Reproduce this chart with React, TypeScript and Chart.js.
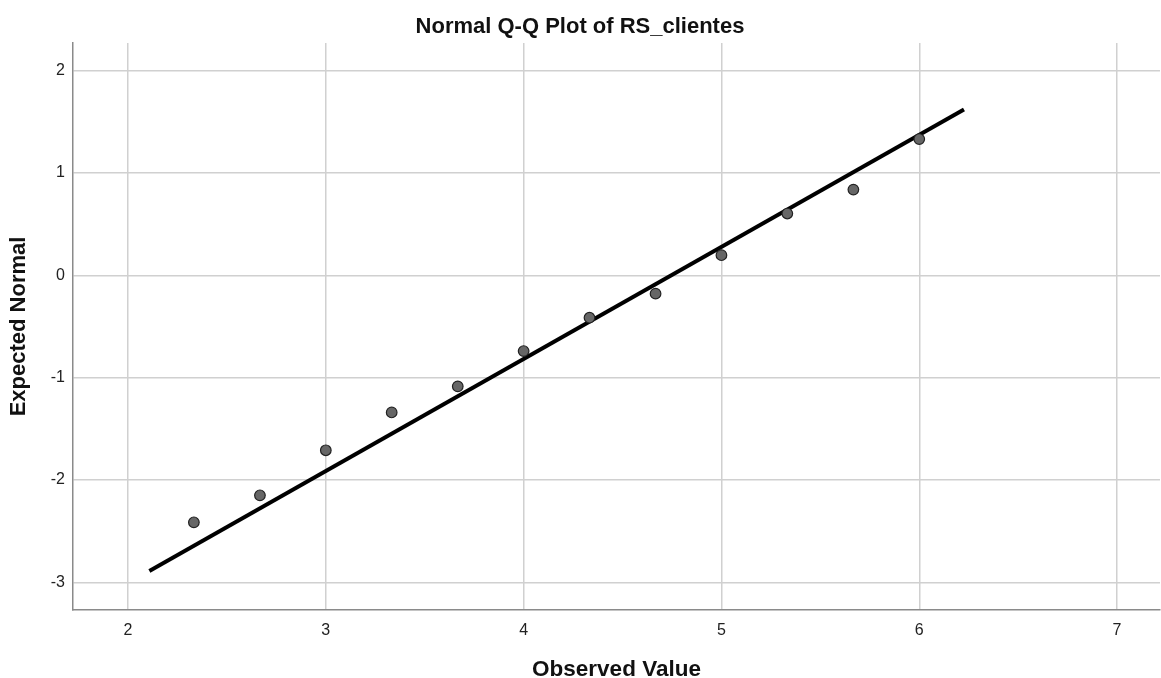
import React, { useEffect, useRef } from "react";
import { Chart, registerables } from "chart.js";

Chart.register(...registerables);

const observedValues = [2.333, 2.667, 3.0, 3.333, 3.667, 4.0, 4.333, 4.667, 5.0, 5.333, 5.667, 6.0];
const expectedNormal = [-2.414, -2.15, -1.71, -1.34, -1.085, -0.74, -0.414, -0.179, 0.197, 0.604, 0.838, 1.332];
const lineX = [2.108, 6.226];
const lineY = [-2.89, 1.62];

const chartTitle = "Normal Q-Q Plot of RS_clientes";
const xTitle = "Observed Value";
const yTitle = "Expected Normal";

export default function App() {
  const ref = useRef<HTMLCanvasElement | null>(null);
  useEffect(() => {
    if (!ref.current) return;
    const font = "'Liberation Sans', Arial, sans-serif";
    const chart = new Chart(ref.current, {
      type: "scatter",
      data: {
        datasets: [
          {
            type: "line",
            data: lineX.map((x, i) => ({ x, y: lineY[i] })),
            borderColor: "#000000",
            borderWidth: 4,
            pointRadius: 0,
            fill: false,
            order: 2,
          } as any,
          {
            type: "scatter",
            data: observedValues.map((x, i) => ({ x, y: expectedNormal[i] })),
            backgroundColor: "#666666",
            borderColor: "#222222",
            borderWidth: 1.2,
            pointRadius: 5.3,
            order: 1,
          },
        ],
      },
      options: {
        animation: false,
        responsive: true,
        maintainAspectRatio: false,
        layout: { autoPadding: false, padding: { left: 0, right: 1, top: 0, bottom: 0 } },
        plugins: {
          legend: { display: false },
          tooltip: { enabled: false },
          title: {
            display: true,
            text: chartTitle,
            color: "#111111",
            font: { family: font, size: 22, weight: "bold", lineHeight: 1.2 },
            padding: { top: 14, bottom: 2.6 },
          },
        },
        scales: {
          x: {
            type: "linear",
            min: 1.722,
            max: 7.217,
            afterFit: (s: any) => {
              s.height = 68;
            },
            ticks: {
              stepSize: 1,
              includeBounds: false,
              color: "#222222",
              padding: 11,
              font: { family: font, size: 16 },
            },
            grid: { color: "#d0d0d0", lineWidth: 1.5, drawTicks: false },
            border: { display: true, color: "#8a8a8a", width: 1.5 },
            title: {
              display: true,
              text: xTitle,
              color: "#111111",
              font: { family: font, size: 22.5, weight: "bold", lineHeight: 0.75 },
              padding: { top: 0, bottom: 0 },
            },
          },
          y: {
            type: "linear",
            min: -3.271,
            max: 2.271,
            afterFit: (s: any) => {
              s.width = 73;
            },
            ticks: {
              stepSize: 1,
              includeBounds: false,
              color: "#222222",
              padding: 8,
              font: { family: font, size: 16 },
            },
            grid: { color: "#d0d0d0", lineWidth: 1.5, drawTicks: false },
            border: { display: true, color: "#8a8a8a", width: 1.5 },
            title: {
              display: true,
              text: yTitle,
              color: "#111111",
              font: { family: font, size: 22, weight: "bold", lineHeight: 1.2 },
              padding: { top: 6, bottom: 0 },
            },
          },
        },
      },
    });
    return () => chart.destroy();
  }, []);
  return (
    <div style={{ position: "fixed", left: 0, top: 0, width: 1161, height: 678, background: "#ffffff" }}>
      <canvas ref={ref} />
    </div>
  );
}
